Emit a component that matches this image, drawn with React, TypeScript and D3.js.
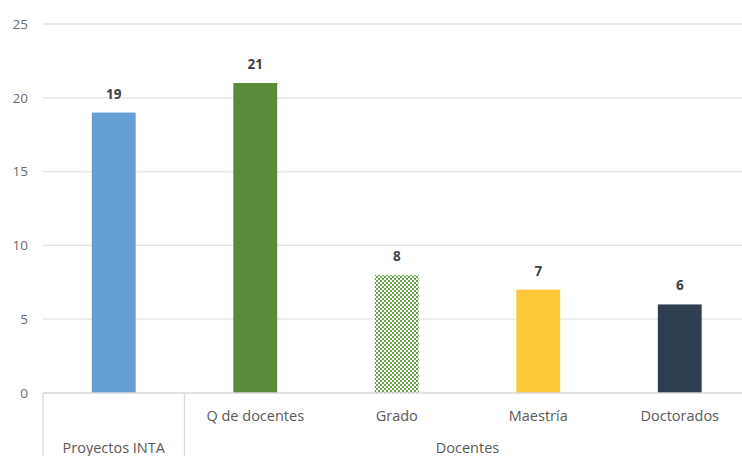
import React, { useEffect, useRef } from "react";
import * as d3 from "d3";

const categories = ["Proyectos INTA", "Q de docentes", "Grado", "Maestría", "Doctorados"];
const values = [19, 21, 8, 7, 6];
const groupLabels = ["Proyectos INTA", "Docentes"];
const groupSpans = [[0, 0], [1, 4]];
const yTicks = [0, 5, 10, 15, 20, 25];
const barColors = ["#659fd6", "#5b8a3a", "pattern", "#ffc838", "#2e3d4f"];

const W = 742;
const H = 456;

export default function App() {
  const ref = useRef<SVGSVGElement>(null);

  useEffect(() => {
    const svg = d3.select(ref.current);
    svg.selectAll("*").remove();

    const left = 43;
    const right = 750.5;
    const y = d3.scaleLinear().domain([0, 25]).range([393, 24]);
    const x = d3
      .scaleBand()
      .domain(categories)
      .range([left, right])
      .paddingInner(0.69)
      .paddingOuter(0.345);
    const slot = d3.scaleBand().domain(categories).range([left, right]).padding(0);

    const defs = svg.append("defs");
    const pat = defs
      .append("pattern")
      .attr("id", "checker")
      .attr("patternUnits", "userSpaceOnUse")
      .attr("width", 4)
      .attr("height", 4);
    pat.append("rect").attr("width", 4).attr("height", 4).attr("fill", "#ffffff");
    pat.append("rect").attr("x", 0).attr("y", 0).attr("width", 2).attr("height", 2).attr("fill", "#68a34c");
    pat.append("rect").attr("x", 2).attr("y", 2).attr("width", 2).attr("height", 2).attr("fill", "#68a34c");

    const font = "'Open Sans', 'Noto Sans', sans-serif";

    // gridlines
    svg
      .append("g")
      .selectAll("line")
      .data(yTicks.filter((t) => t > 0))
      .join("line")
      .attr("x1", left)
      .attr("x2", W)
      .attr("y1", (d) => y(d))
      .attr("y2", (d) => y(d))
      .attr("stroke", "#e3e3e3")
      .attr("stroke-width", 1.3);

    // y tick labels
    svg
      .append("g")
      .selectAll("text")
      .data(yTicks)
      .join("text")
      .attr("x", 28)
      .attr("y", (d) => y(d))
      .attr("dy", "0.35em")
      .attr("text-anchor", "end")
      .attr("fill", "#6b6b6b")
      .attr("font-family", font)
      .attr("font-size", 13.5)
      .text((d) => String(d));

    // bars
    svg
      .append("g")
      .selectAll("rect")
      .data(values)
      .join("rect")
      .attr("x", (_, i) => x(categories[i])!)
      .attr("width", x.bandwidth())
      .attr("y", (d) => y(d))
      .attr("height", (d) => y(0) - y(d))
      .attr("fill", (_, i) => (barColors[i] === "pattern" ? "url(#checker)" : barColors[i]));

    // value labels
    svg
      .append("g")
      .selectAll("text")
      .data(values)
      .join("text")
      .attr("x", (_, i) => x(categories[i])! + x.bandwidth() / 2)
      .attr("y", (d) => y(d) - 14)
      .attr("text-anchor", "middle")
      .attr("fill", "#404040")
      .attr("font-family", font)
      .attr("font-weight", "bold")
      .attr("font-size", 13.5)
      .text((d) => String(d));

    // axis line
    svg
      .append("line")
      .attr("x1", left)
      .attr("x2", W)
      .attr("y1", y(0))
      .attr("y2", y(0))
      .attr("stroke", "#d9d9d9")
      .attr("stroke-width", 1.3);

    // dividers
    const dividers = [left, slot(categories[1])!];
    svg
      .append("g")
      .selectAll("line")
      .data(dividers)
      .join("line")
      .attr("x1", (d) => d)
      .attr("x2", (d) => d)
      .attr("y1", y(0))
      .attr("y2", H)
      .attr("stroke", "#d9d9d9")
      .attr("stroke-width", 1.3);

    // category labels (level 1)
    svg
      .append("g")
      .selectAll("text")
      .data(categories.slice(1))
      .join("text")
      .attr("x", (d) => slot(d)! + slot.bandwidth() / 2)
      .attr("y", 421)
      .attr("text-anchor", "middle")
      .attr("fill", "#595959")
      .attr("font-family", font)
      .attr("font-size", 14.5)
      .text((d) => d);

    // group labels
    svg
      .append("g")
      .selectAll("text")
      .data(groupLabels)
      .join("text")
      .attr("x", (_, i) => {
        const [a, b] = groupSpans[i];
        const x0 = slot(categories[a])!;
        const x1 = slot(categories[b])! + slot.bandwidth();
        return (x0 + x1) / 2;
      })
      .attr("y", 453)
      .attr("text-anchor", "middle")
      .attr("fill", "#595959")
      .attr("font-family", font)
      .attr("font-size", 14.5)
      .text((d) => d);
  }, []);

  return (
    <div style={{ position: "fixed", left: 0, top: 0 }}>
      <svg ref={ref} width={W} height={H} style={{ display: "block", background: "#ffffff" }} />
    </div>
  );
}
